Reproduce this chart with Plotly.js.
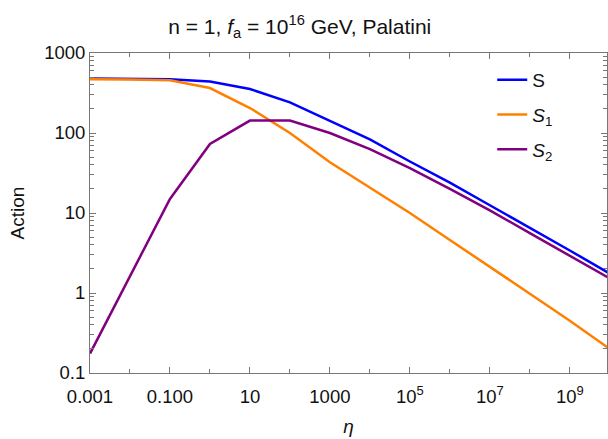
<!DOCTYPE html>
<html><head><meta charset="utf-8">
<script src="https://cdn.plot.ly/plotly-3.0.1.min.js"></script>
<style>html,body{margin:0;padding:0;background:#fff}#chart{width:608px;height:439px}</style>
</head><body><div id="chart"></div>
<script>
const eta = [0.001, 0.01, 0.1, 1, 10, 100, 1000, 1e4, 1e5, 1e6, 1e7, 1e8, 1e9, 1e10];
const S  = [480, 478, 470, 440, 355, 241, 142, 83, 44, 24, 12.5, 6.6, 3.4, 1.75];
const S1 = [470, 468, 455, 365, 205, 100, 43, 21, 10, 4.6, 2.15, 0.98, 0.45, 0.2];
const S2 = [0.175, 1.6, 15, 73, 143, 143, 100, 63, 36.5, 20, 10.8, 5.6, 2.9, 1.52];
const names = ["S", "<i>S</i><sub>1</sub>", "<i>S</i><sub>2</sub>"];
const colors = ["#0000ff", "#ff8000", "#800080"];
const xTickVals = [0.001, 0.1, 10, 1000, 1e5, 1e7, 1e9];
const xTickText = ["0.001", "0.100", "10", "1000", "10<sup>5</sup>", "10<sup>7</sup>", "10<sup>9</sup>"];
const xMinorVals = [0.01, 1, 100, 1e4, 1e6, 1e8, 1e10];
const yTickVals = [0.1, 1, 10, 100, 1000];
const yTickText = ["0.1", "1", "10", "100", "1000"];
const yMinorVals = [];
for (const d of [0.1, 1, 10, 100]) for (let k = 2; k <= 9; k++) yMinorVals.push(d * k);

const series = [S, S1, S2];
const traces = series.map((ys, i) => ({
  x: eta, y: ys, type: "scatter", mode: "lines", name: names[i],
  legendgroup: "g" + i,
  line: {color: colors[i], width: 2.5}
}));

const fam = "Liberation Sans, Arial, sans-serif";
const layout = {
  width: 608, height: 439,
  margin: {l: 90, r: 1, t: 53, b: 66},
  paper_bgcolor: "#fff", plot_bgcolor: "#fff",
  font: {size: 18, family: fam, color: "#111"},
  title: {text: "n = 1, <i>f</i><sub>a</sub> = 10<sup>16</sup> GeV, Palatini", x: 0.493, xanchor: "center", y: 0.94, yanchor: "middle", font: {size: 21, family: fam, color: "#111"}},
  showlegend: true,
  legend: {x: 0.778, y: 0.975, xanchor: "left", yanchor: "top", font: {size: 19, family: fam, color: "#111"}, tracegroupgap: 7, bgcolor: "rgba(0,0,0,0)"},
  xaxis: {
    type: "log", range: [-3, 9.93], showgrid: false, zeroline: false,
    showline: true, linecolor: "#777", linewidth: 1, mirror: "ticks",
    ticks: "inside", ticklen: 6, tickcolor: "#777", ticklabelstandoff: 7,
    tickmode: "array", tickvals: xTickVals, ticktext: xTickText,
    tickfont: {size: 18.5, family: fam, color: "#111"},
    minor: {tickmode: "array", tickvals: xMinorVals, ticks: "inside", ticklen: 4, tickcolor: "#777"},
    title: {text: "<i>η</i>", font: {size: 19, family: fam, color: "#111"}, standoff: 13}
  },
  yaxis: {
    type: "log", range: [-1, 3], showgrid: false, zeroline: false,
    showline: true, linecolor: "#777", linewidth: 1, mirror: "ticks",
    ticks: "inside", ticklen: 6, tickcolor: "#777",
    tickmode: "array", tickvals: yTickVals, ticktext: yTickText,
    tickfont: {size: 18.5, family: fam, color: "#111"},
    minor: {tickmode: "array", tickvals: yMinorVals, ticks: "inside", ticklen: 4, tickcolor: "#777"},
    title: {text: "Action", font: {size: 19, family: fam, color: "#111"}, standoff: 14}
  }
};
Plotly.newPlot("chart", traces, layout, {displayModeBar: false, staticPlot: true});
</script></body></html>
